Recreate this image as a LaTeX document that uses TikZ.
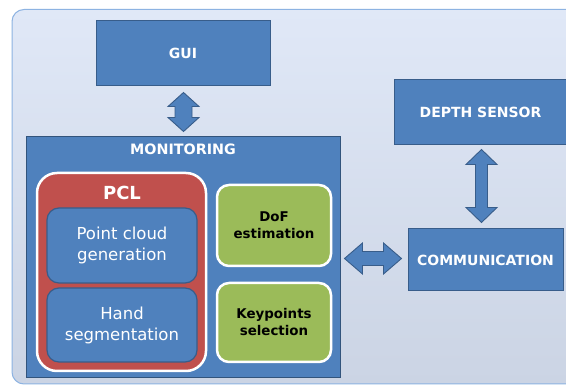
\documentclass[tikz,border=0pt]{standalone}
\usepackage{fontspec}
\setmainfont{DejaVu Sans}
\usetikzlibrary{calc}
\definecolor{pblue}{HTML}{4F81BD}
\definecolor{pbord}{HTML}{385D8A}
\definecolor{pred}{HTML}{C0504D}
\definecolor{pgreen}{HTML}{9BBB59}
\definecolor{bgtop}{HTML}{E0E8F7}
\definecolor{bgmid}{HTML}{CDD6E6}
\definecolor{bgbot}{HTML}{CBD4E4}
\definecolor{bgline}{HTML}{8DB3E2}
\tikzset{
  bluebox/.style={draw=pbord, line width=1pt, fill=pblue, inner sep=0pt, text=white,
    font=\bfseries\fontsize{14}{17}\selectfont, align=center},
  pclbox/.style={draw=white, line width=2.5pt, fill=pred, rounded corners=20pt, inner sep=0pt},
  subbox/.style={draw=pbord, line width=1.2pt, fill=pblue, rounded corners=12pt, inner sep=0pt,
    text=white, font=\fontsize{16.5}{21}\selectfont, align=center},
  greenbox/.style={draw=white, line width=2.5pt, fill=pgreen, rounded corners=12pt, inner sep=0pt,
    text=black, font=\bfseries\fontsize{13.4}{17}\selectfont, align=center},
  blockarrow/.style={draw=pbord, line width=0.9pt, fill=pblue, line join=miter},
}
% vertical double block arrow: #1 top, #2 bottom, #3 head half width, #4 shaft half width, #5 head length
\newcommand\vdarrow[5]{%
  \path[blockarrow] let \p1=(#1), \p2=(#2) in
    (\x1,\y1) -- ({\x1+#3pt},{\y1-#5pt}) -- ({\x1+#4pt},{\y1-#5pt}) -- ({\x1+#4pt},{\y2+#5pt})
    -- ({\x1+#3pt},{\y2+#5pt}) -- (\x1,\y2) -- ({\x1-#3pt},{\y2+#5pt}) -- ({\x1-#4pt},{\y2+#5pt})
    -- ({\x1-#4pt},{\y1-#5pt}) -- ({\x1-#3pt},{\y1-#5pt}) -- cycle;}
% horizontal double block arrow: #1 left, #2 right
\newcommand\hdarrow[5]{%
  \path[blockarrow] let \p1=(#1), \p2=(#2) in
    (\x1,\y1) -- ({\x1+#5pt},{\y1+#3pt}) -- ({\x1+#5pt},{\y1+#4pt}) -- ({\x2-#5pt},{\y1+#4pt})
    -- ({\x2-#5pt},{\y1+#3pt}) -- (\x2,\y1) -- ({\x2-#5pt},{\y1-#3pt}) -- ({\x2-#5pt},{\y1-#4pt})
    -- ({\x1+#5pt},{\y1-#4pt}) -- ({\x1+#5pt},{\y1-#3pt}) -- cycle;}
\begin{document}
\begin{tikzpicture}[x=1pt,y=-1pt]
\useasboundingbox (0,0) rectangle (566,385);
\fill[white] (0,0) rectangle (566,385);
\begin{scope}
  \clip (0,0) rectangle (566,385);
  \path[draw=bgline, line width=1pt, rounded corners=12pt, top color=bgtop, middle color=bgmid, bottom color=bgbot]
    (12,9.5) rectangle (600,384);
\end{scope}

\node[bluebox, minimum width=174pt, minimum height=65pt] (gui) at (183,53.5) {GUI};
\node[bluebox, minimum width=173pt, minimum height=65pt] (depth) at (480.5,112.5) {DEPTH SENSOR};
\node[bluebox, minimum width=155pt, minimum height=62pt] (comm) at (485.5,260) {COMMUNICATION};
\node[bluebox, draw=pbord!90!black, minimum width=314pt, minimum height=241pt] (mon) at (183,257.5) {};
\node[text=white, font=\bfseries\fontsize{14.3}{17}\selectfont, inner sep=0pt] (montitle) at (183,149) {MONITORING};

\node[pclbox, minimum width=169pt, minimum height=198pt] (pcl) at (121.5,272) {};
\node[text=white, font=\bfseries\fontsize{18}{21}\selectfont, inner sep=0pt] (pcltitle) at (122,193) {PCL};
\node[subbox, minimum width=150pt, minimum height=75pt] (pcg) at (122,245.5) {Point cloud\\generation};
\node[subbox, minimum width=150pt, minimum height=74pt] (hs) at (122,325) {Hand\\segmentation};

\node[greenbox, minimum width=114pt, minimum height=81pt] (dof) at (274,225.5) {DoF\\estimation};
\node[greenbox, minimum width=114pt, minimum height=79pt] (kp) at (274,322.5) {Keypoints\\selection};

\coordinate (a1t) at ($(gui.south)+(0.5,6)$);
\coordinate (a1b) at ($(mon.north)+(0.5,-5)$);
\vdarrow{a1t}{a1b}{15.5}{8.5}{14}

\coordinate (a2t) at ($(depth.south)+(1,4)$);
\coordinate (a2b) at ($(comm.north)+(-4,-6)$);
\vdarrow{a2t}{a2b}{15.5}{6}{15}

\coordinate (a3l) at ($(mon.east)+(4,1)$);
\coordinate (a3r) at ($(comm.west)+(-6,-1.5)$);
\hdarrow{a3l}{a3r}{15.5}{7}{18}
\end{tikzpicture}
\end{document}
